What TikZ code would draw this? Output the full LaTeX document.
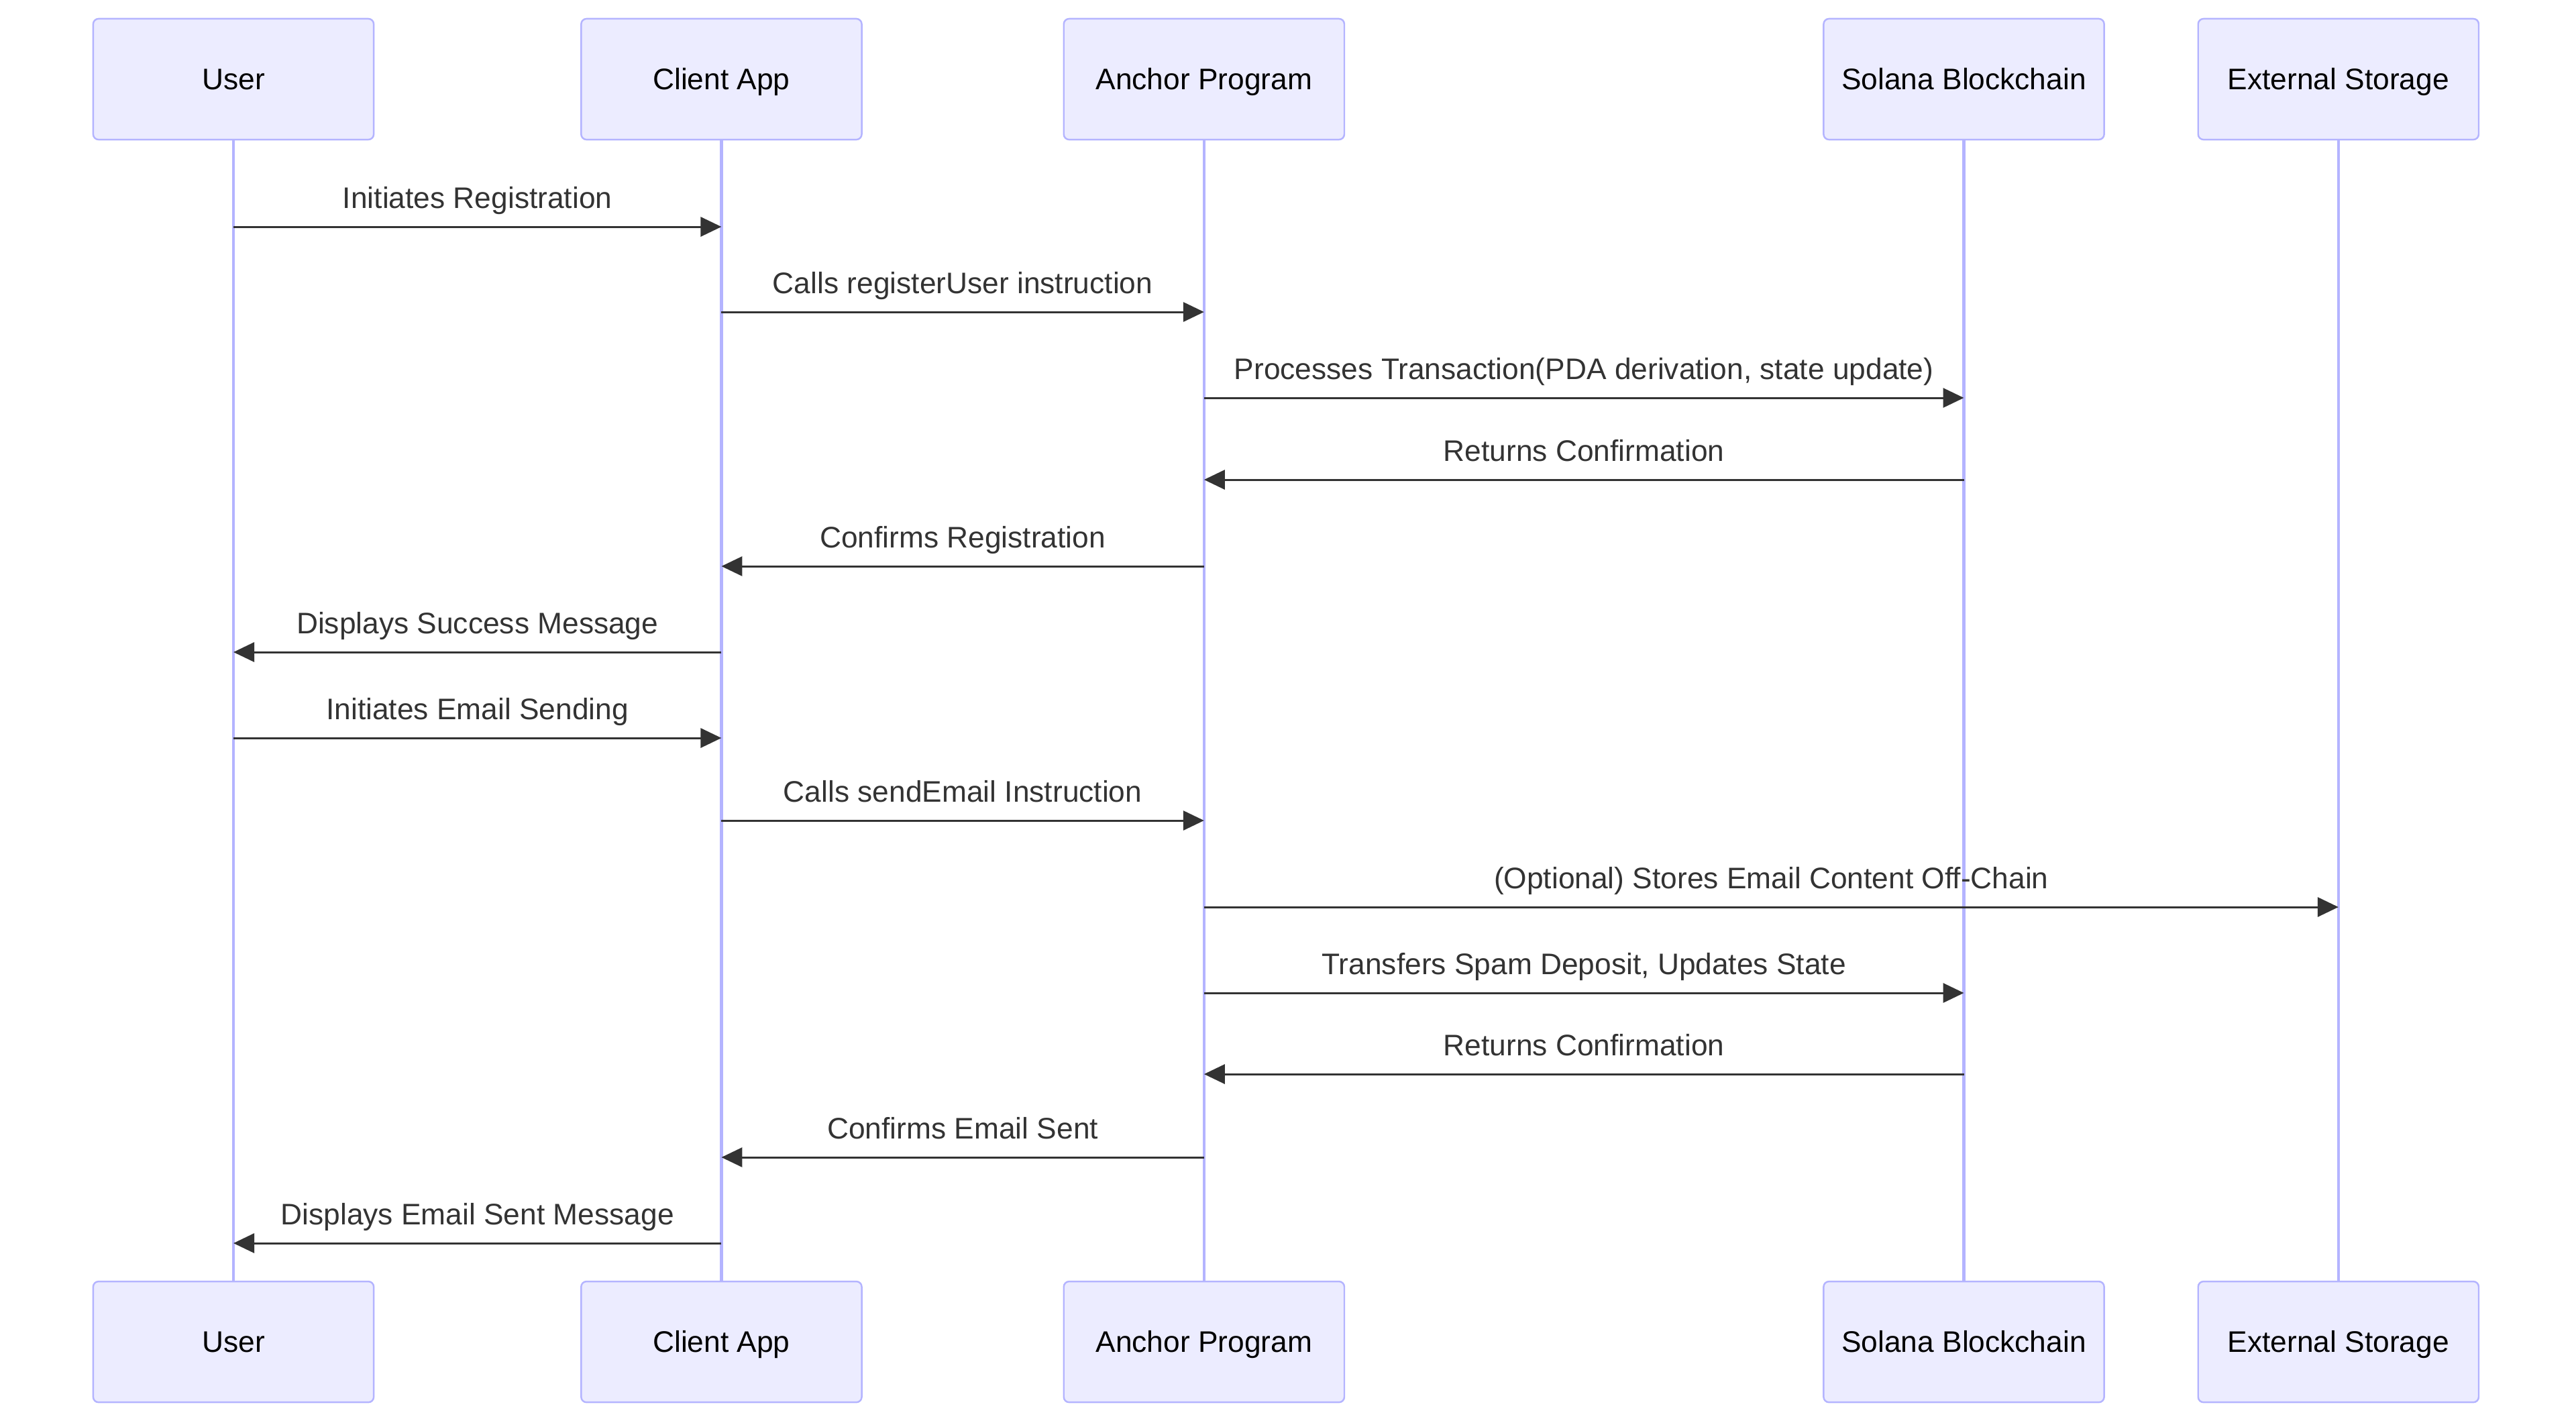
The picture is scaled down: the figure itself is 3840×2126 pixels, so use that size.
\documentclass[tikz,border=0pt]{standalone}
\usepackage{fontspec}
\setmainfont{Liberation Sans}
\usetikzlibrary{arrows.meta,positioning}
\definecolor{actorfill}{HTML}{ECECFF}
\definecolor{actorline}{HTML}{B4B4FF}
\definecolor{msgcolor}{HTML}{333333}

\begin{document}
\begin{tikzpicture}[x=0.01cm,y=-0.01cm,
    actor/.style={rectangle,rounded corners=0.08cm,draw=actorline,line width=0.7pt,
		fill=actorfill,minimum width=4.18cm,minimum height=1.8cm,inner sep=0pt,
		outer sep=0pt,text height=0.33cm,text depth=0.02cm,
		font=\fontsize{12.6}{15}\selectfont},
    lifeline/.style={draw=actorline,line width=1.2pt},
    msg/.style={draw=msgcolor,line width=0.85pt,-{Triangle[length=0.31cm,width=0.29cm]}},
    lbl/.style={anchor=base,yshift=0.28cm,inner sep=0pt,text=msgcolor,
		font=\fontsize{12.6}{15}\selectfont}
]
    \useasboundingbox (0,0) rectangle (3840,2126);

    % participants
    \node (userT) [actor] at (348,118) {User};
    \node (clientT) [actor,right=3.09cm of userT] {Client App};
    \node (anchorT) [actor,right=3.01cm of clientT] {Anchor Program};
    \node (solanaT) [actor,right=7.14cm of anchorT] {Solana Blockchain};
    \node (storeT) [actor,right=1.40cm of solanaT] {External Storage};

    \node (userB) [actor,below=17.01cm of userT] {User};
    \node (clientB) [actor,below=17.01cm of clientT] {Client App};
    \node (anchorB) [actor,below=17.01cm of anchorT] {Anchor Program};
    \node (solanaB) [actor,below=17.01cm of solanaT] {Solana Blockchain};
    \node (storeB) [actor,below=17.01cm of storeT] {External Storage};

    \draw[lifeline] (userT) -- (userB);
    \draw[lifeline] (clientT) -- (clientB);
    \draw[lifeline] (anchorT) -- (anchorB);
    \draw[lifeline] (solanaT) -- (solanaB);
    \draw[lifeline] (storeT) -- (storeB);

    % message rows
    \coordinate (m1) at (0,338);
    \coordinate (m2) at (0,465);
    \coordinate (m3) at (0,593);
    \coordinate (m4) at (0,715);
    \coordinate (m5) at (0,844);
    \coordinate (m6) at (0,972);
    \coordinate (m7) at (0,1100);
    \coordinate (m8) at (0,1223);
    \coordinate (m9) at (0,1352);
    \coordinate (m10) at (0,1480);
    \coordinate (m11) at (0,1601);
    \coordinate (m12) at (0,1725);
    \coordinate (m13) at (0,1853);

    % registration
    \draw[msg] (userT |- m1) -- (clientT |- m1) node[lbl,midway] {Initiates Registration};
    \draw[msg] (clientT |- m2) -- (anchorT |- m2) node[lbl,midway] {Calls registerUser instruction};
    \draw[msg] (anchorT |- m3) -- (solanaT |- m3) node[lbl,midway] {Processes Transaction(PDA derivation, state update)};
    \draw[msg] (solanaT |- m4) -- (anchorT |- m4) node[lbl,midway] {Returns Confirmation};
    \draw[msg] (anchorT |- m5) -- (clientT |- m5) node[lbl,midway] {Confirms Registration};
    \draw[msg] (clientT |- m6) -- (userT |- m6) node[lbl,midway] {Displays Success Message};

    % sending email
    \draw[msg] (userT |- m7) -- (clientT |- m7) node[lbl,midway] {Initiates Email Sending};
    \draw[msg] (clientT |- m8) -- (anchorT |- m8) node[lbl,midway] {Calls sendEmail Instruction};
    \draw[msg] (anchorT |- m9) -- (storeT |- m9) node[lbl,midway] {(Optional) Stores Email Content Off-Chain};
    \draw[msg] (anchorT |- m10) -- (solanaT |- m10) node[lbl,midway] {Transfers Spam Deposit, Updates State};
    \draw[msg] (solanaT |- m11) -- (anchorT |- m11) node[lbl,midway] {Returns Confirmation};
    \draw[msg] (anchorT |- m12) -- (clientT |- m12) node[lbl,midway] {Confirms Email Sent};
    \draw[msg] (clientT |- m13) -- (userT |- m13) node[lbl,midway] {Displays Email Sent Message};
\end{tikzpicture}
\end{document}
